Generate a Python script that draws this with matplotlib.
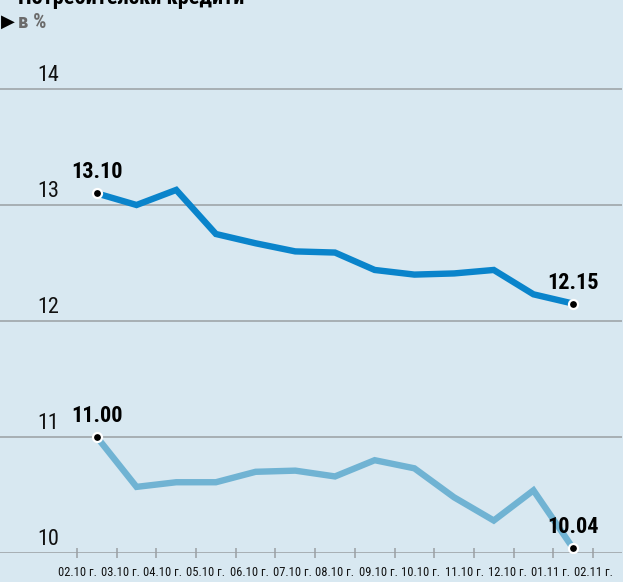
import numpy as np
import matplotlib
matplotlib.use("Agg")
import matplotlib.pyplot as plt
from matplotlib.patches import Rectangle
from matplotlib import font_manager

# --- data ---
months = ["02.10 г.", "03.10 г.", "04.10 г.", "05.10 г.", "06.10 г.", "07.10 г.",
          "08.10 г.", "09.10 г.", "10.10 г.", "11.10 г.", "12.10 г.", "01.11 г.", "02.11 г."]
dark_vals = [13.10, 13.00, 13.13, 12.75, 12.67, 12.60, 12.59, 12.44, 12.40, 12.41, 12.44, 12.23, 12.15]
light_vals = [11.00, 10.57, 10.61, 10.61, 10.70, 10.71, 10.66, 10.80, 10.73, 10.48, 10.28, 10.54, 10.04]
y_ticks = [10, 11, 12, 13, 14]

BG = "#d8e8f1"
DARK = "#0a84cb"
LIGHT = "#70b3d3"
GRID = "#9a9fa3"

# pick a condensed face if one is installed
names = {f.name for f in font_manager.fontManager.ttflist}
cond = [f for f in ("Liberation Sans Narrow", "Roboto Condensed", "Open Sans Condensed",
                    "DejaVu Sans Condensed") if f in names]
FONT = cond + ["DejaVu Sans"]
STRETCH = "normal" if cond else "condensed"

W, H = 633, 582
fig = plt.figure(figsize=(W / 100, H / 100), dpi=100, facecolor="white")
fig.patches.append(Rectangle((0, 0), 623 / W, 1, transform=fig.transFigure,
                             facecolor=BG, edgecolor="none", zorder=-10))

# axes spans pixel x 0..622, y 60..553
ax = fig.add_axes([0, (H - 553) / H, 622 / W, (553 - 60) / H])
ax.set_facecolor("none")
n = len(months)
x = np.arange(n)
ax.set_xlim(-0.5 - 77 / 39.7, 12.5 + 29 / 39.7)
ax.set_ylim(10, 14 + 29 / 116)

for s in ax.spines.values():
    s.set_visible(False)
ax.set_xticks([])
ax.set_yticks([])

for v in y_ticks:
    ax.axhline(v, color=GRID, lw=1.1, zorder=1)
    ax.annotate(str(v), xy=(0, v), xycoords=("axes fraction", "data"),
                xytext=(48, 3), textcoords="offset pixels", ha="center", va="bottom",
                fontsize=16, family=FONT, stretch=STRETCH, color="#111111")

# boundary ticks under the axis
for b in np.arange(-0.5, n, 1.0):
    ax.plot([b], [10], marker="|", markersize=7, color=GRID, mew=1.1,
            clip_on=False, transform=ax.transData)

# month labels spread across the boundary range
for lab, px in zip(months, np.linspace(-0.5, 12.5, n)):
    ax.annotate(lab, xy=(px, 10), xytext=(0, -13), textcoords="offset pixels",
                ha="center", va="top", fontsize=9, family=FONT, stretch=STRETCH,
                color="#111111", annotation_clip=False)

ax.plot(x, dark_vals, color=DARK, lw=4.6, solid_joinstyle="miter", zorder=3)
ax.plot(x, light_vals, color=LIGHT, lw=4.6, solid_joinstyle="miter", zorder=3)

for series in (dark_vals, light_vals):
    for i in (0, n - 1):
        ax.plot(x[i], series[i], marker="o", markersize=6.5, color="black",
                markeredgecolor="white", markeredgewidth=1.6, zorder=5)
        ax.annotate(f"{series[i]:.2f}", xy=(x[i], series[i]), xytext=(0, 10),
                    textcoords="offset pixels", ha="center", va="bottom",
                    fontsize=16, fontweight="bold", family=FONT, stretch=STRETCH,
                    color="black", annotation_clip=False)

# header (title cut off at top edge)
fig.text(18 / W, 1 - 4 / H, "Потребителски кредити", fontsize=16, fontweight="bold",
         family=FONT, stretch=STRETCH, color="black", ha="left", va="baseline")
fig.text(1 / W, 1 - 22 / H, "\u25B6", fontsize=13, family=["DejaVu Sans"],
         color="black", ha="left", va="center")
fig.text(18 / W, 1 - 23 / H, "в %", fontsize=15, fontweight="bold", family=FONT,
         stretch=STRETCH, color="#6b6b6b", ha="left", va="center")

fig.savefig("out.png", dpi=100, facecolor="white")
